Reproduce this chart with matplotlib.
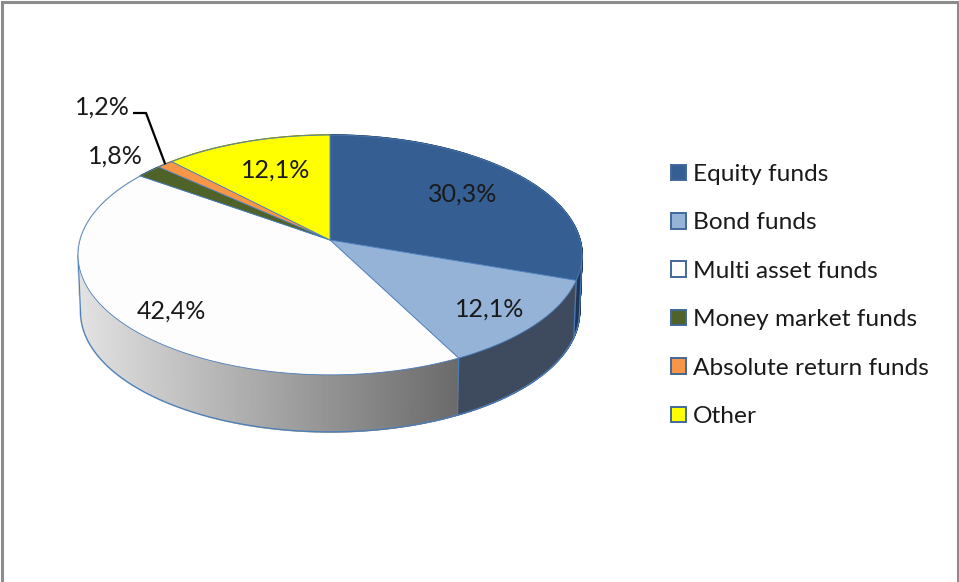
import numpy as np
import matplotlib
matplotlib.use("Agg")
import matplotlib.pyplot as plt
from matplotlib.patches import Patch

categories = ["Equity funds", "Bond funds", "Multi asset funds",
              "Money market funds", "Absolute return funds", "Other"]
shares = [30.3, 12.1, 42.4, 1.8, 1.2, 12.1]
value_labels = ["30,3%", "12,1%", "42,4%", "1,8%", "1,2%", "12,1%"]

colors = ["#355E92", "#95B3D7", "#FDFDFD", "#4F6228", "#F79646", "#FFFF00"]
side_colors = [("#1E3557", "#1E3557"), ("#3E4B5E", "#3E4B5E"),
               ("#E2E2E2", "#6A6A6A"), ("#2C3716", "#2C3716"),
               ("#8A5427", "#8A5427"), ("#8F8F00", "#8F8F00")]
edge = "#4A7EBB"
label_xy = [(463, 194), (490, 309), (171, 311), (115, 156), (102, 107), (276, 170)]
FONT = "Lato"
FS = 18
LEGEND_FS = 17.6

fig = plt.figure(figsize=(9.59, 5.82), dpi=100)
ax = fig.add_axes([0, 0, 1, 1])
ax.set_xlim(0, 959)
ax.set_ylim(582, 0)
ax.axis("off")

CX, CY, A, B, K, DEPTH, SHRINK = 330, 240, 250, 118, 0.125, 57, 0.99


def top(t):
    u, v = np.sin(t), np.cos(t)
    s = 1 / (1 + K * v)
    return CX + A * u * s, CY - B * v * s


def low(t):
    x, y = top(t)
    return CX + (x - CX) * SHRINK, y + DEPTH


def mix(c1, c2, f):
    a = np.array(matplotlib.colors.to_rgb(c1))
    b = np.array(matplotlib.colors.to_rgb(c2))
    return tuple(a + (b - a) * f)


fr = np.array(shares) / sum(shares)
ends = np.cumsum(fr) * 2 * np.pi
starts = np.r_[0, ends[:-1]]

# sides
for i, (a0, a1) in enumerate(zip(starts, ends)):
    n = max(int((a1 - a0) * 120), 2)
    ts = np.linspace(a0, a1, n + 1)
    x_lo, x_hi = top(a1)[0], top(a0)[0]
    if i == 2:
        x_lo, x_hi = 78, top(a0)[0]
    for t0, t1 in zip(ts[:-1], ts[1:]):
        xa, ya = top(t0)
        xb, yb = top(t1)
        xc, yc = low(t1)
        xd, yd = low(t0)
        f = np.clip((0.5 * (xa + xb) - x_lo) / max(x_hi - x_lo, 1e-6), 0, 1)
        c = mix(*side_colors[i], f)
        ax.fill([xa, xb, xc, xd], [ya, yb, yc, yd], facecolor=c, edgecolor=c,
                lw=1.2, zorder=1)

# lower rim, silhouette edges and visible vertical edges
grid = np.linspace(0, 2 * np.pi, 1441)
gx = top(grid)[0]
t_right, t_left = grid[np.argmax(gx)], grid[np.argmin(gx)]
tt = np.linspace(t_right, t_left, 400)
ax.plot(*low(tt), color=edge, lw=0.9, zorder=2)
for a in [t_right, ends[0], ends[1], t_left]:
    xa, ya = top(a)
    xb, yb = low(a)
    ax.plot([xa, xb], [ya, yb], color=edge, lw=0.8, zorder=2)

# top faces
for i, (a0, a1) in enumerate(zip(starts, ends)):
    ts = np.linspace(a0, a1, max(int((a1 - a0) * 150), 4))
    xs, ys = top(ts)
    ax.fill(np.r_[CX, xs], np.r_[CY, ys], facecolor=colors[i], edgecolor=edge,
            lw=0.6, joinstyle="round", zorder=3)

# leader for the small slice
mid = 0.5 * (starts[4] + ends[4])
lx, ly = top(mid)
ax.plot([133, 146, lx], [113, 113, ly], color="black", lw=1.6, zorder=4,
        solid_capstyle="butt")

for txt, (x, y) in zip(value_labels, label_xy):
    ax.text(x, y, txt, ha="center", va="center", fontsize=FS, family=FONT,
            color="#1A1A1A", zorder=5)

handles = [Patch(facecolor=c, edgecolor="#41689B", lw=1.4, label=l)
           for c, l in zip(colors, categories)]
ax.legend(handles=handles, loc="upper left", bbox_to_anchor=(671, 164),
          bbox_transform=ax.transData, frameon=False,
          prop={"family": FONT, "size": LEGEND_FS},
          labelspacing=1.12, handlelength=0.6, handleheight=0.6,
          handletextpad=0.3, borderpad=0, borderaxespad=0, labelcolor="#1A1A1A")

# outer frame
ax.plot([2, 2, 957.5, 957.5], [582, 2, 2, 582], color="#8C8C8C", lw=2.2,
        solid_joinstyle="miter", zorder=6)

fig.savefig("out.png", dpi=100)
